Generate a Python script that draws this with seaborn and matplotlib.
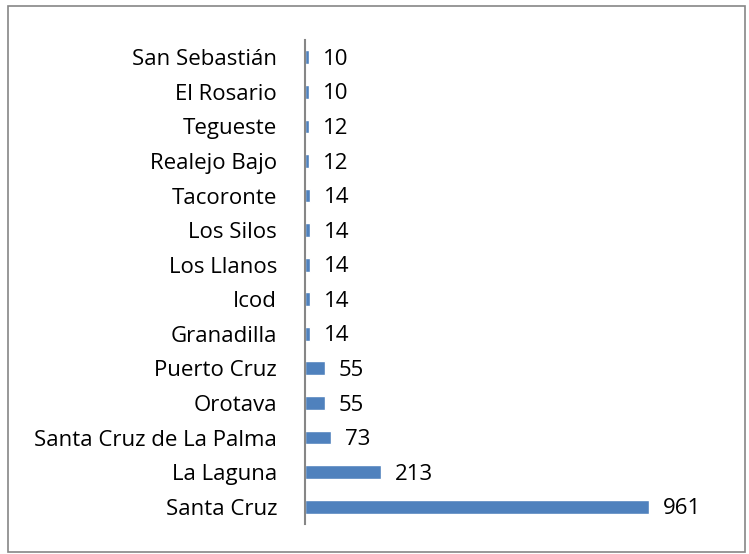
import matplotlib
matplotlib.use("Agg")
from matplotlib import pyplot as plt
from matplotlib.patches import Rectangle
import pandas as pd
import seaborn as sns

municipios = [
    "San Sebastián", "El Rosario", "Tegueste", "Realejo Bajo", "Tacoronte",
    "Los Silos", "Los Llanos", "Icod", "Granadilla", "Puerto Cruz",
    "Orotava", "Santa Cruz de La Palma", "La Laguna", "Santa Cruz",
]
valores = [10, 10, 12, 12, 14, 14, 14, 14, 14, 55, 55, 73, 213, 961]

df = pd.DataFrame({"municipio": municipios, "valor": valores})

sns.set_style("white")
plt.rcParams["font.family"] = ["Open Sans", "DejaVu Sans"]
plt.rcParams["text.color"] = "black"

fig = plt.figure(figsize=(7.49, 5.54), dpi=100)
ax = fig.add_axes([0.4072, 0.0542, 0.573, 0.8736])

sns.barplot(data=df, x="valor", y="municipio", order=municipios,
            color="#4F81BD", saturation=1, width=0.4, ax=ax)

ax.set_xlim(0, 1200)
ax.set_xlabel("")
ax.set_ylabel("")
ax.set_xticks([])
for side in ["top", "right", "bottom"]:
    ax.spines[side].set_visible(False)
ax.spines["left"].set_color("#868686")
ax.spines["left"].set_linewidth(1.5)
ax.tick_params(axis="y", length=0, pad=20, labelsize=16, labelcolor="black")

labels = ax.bar_label(ax.containers[0], padding=10, fontsize=16, color="black")
for t in labels:
    t.set_va("center")
    t.xyann = (10, -1.5)

# Excel-like chart border
fig.patches.append(Rectangle((8 / 749, 2 / 554), 737 / 749, 546 / 554,
                             transform=fig.transFigure, fill=False,
                             edgecolor="#868686", linewidth=1.2))

fig.savefig("out.png", dpi=100)
